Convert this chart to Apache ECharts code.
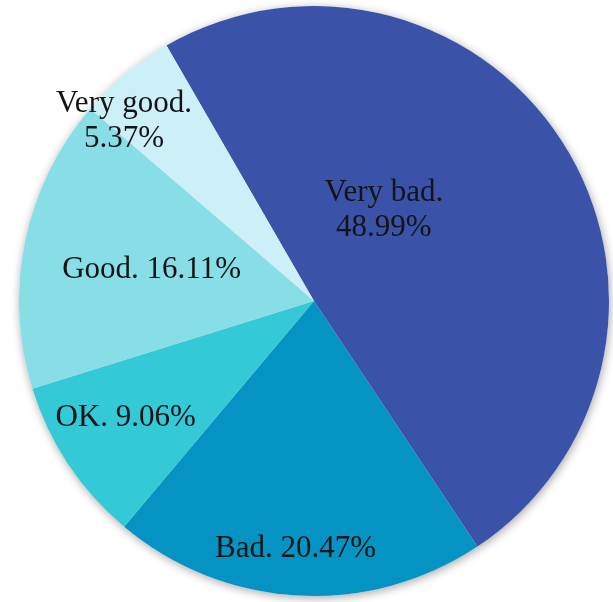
<!DOCTYPE html>
<html>
<head>
<meta charset="utf-8">
<script src="https://cdn.jsdelivr.net/npm/echarts@6/dist/echarts.min.js"></script>
<style>
html,body{margin:0;padding:0;background:#ffffff;}
#chart{width:613px;height:602px;}
</style>
</head>
<body>
<div id="chart"></div>
<script>
// ---- data ----
const categories = ['Very bad', 'Bad', 'OK', 'Good', 'Very good'];
const values = [48.99, 20.47, 9.06, 16.11, 5.37];

// ---- styles ----
const colors = ['#3A53A8', '#0493C3', '#33C9D7', '#87DEE7', '#CDEFF8'];
// label nudges from the default inside-label position (px)
const labelShift = {
  'Very bad': [-58, -11],
  'Bad': [-10, 98],
  'OK': [-63, 33],
  'Good': [-15, -1],
  'Very good': [-94, -64]
};
const twoLine = { 'Very bad': true, 'Very good': true };

const chart = echarts.init(document.getElementById('chart'), null, { renderer: 'canvas' });

const dataVisible = categories.map((c, i) => ({
  name: c,
  value: values[i],
  itemStyle: { color: colors[i] }
}));
const dataShadow = categories.map((c, i) => ({ name: c, value: values[i] }));

const common = {
  type: 'pie',
  center: [314, 301],
  radius: [0, 295],
  startAngle: 120,
  clockwise: true,
  avoidLabelOverlap: false,
  animation: false
};

chart.setOption({
  backgroundColor: '#ffffff',
  series: [
    Object.assign({}, common, {
      silent: true,
      z: 1,
      data: dataShadow,
      itemStyle: {
        color: '#ffffff',
        shadowBlur: 10,
        shadowColor: 'rgba(0,0,0,0.35)',
        shadowOffsetX: 1,
        shadowOffsetY: 2
      },
      label: { show: false },
      labelLine: { show: false }
    }),
    Object.assign({}, common, {
      z: 2,
      data: dataVisible,
      itemStyle: { borderWidth: 0 },
      label: {
        show: true,
        position: 'inside',
        fontFamily: '"Liberation Serif", "DejaVu Serif", serif',
        fontSize: 31,
        lineHeight: 35,
        color: '#141418',
        align: 'center',
        formatter: function (p) {
          const pct = p.value.toFixed(2) + '%';
          return twoLine[p.name] ? (p.name + '.\n' + pct) : (p.name + '. ' + pct);
        }
      },
      labelLine: { show: false },
      labelLayout: function (params) {
        const name = categories[params.dataIndex];
        const s = labelShift[name] || [0, 0];
        return { dx: s[0], dy: s[1] };
      }
    })
  ]
});
</script>
</body>
</html>
